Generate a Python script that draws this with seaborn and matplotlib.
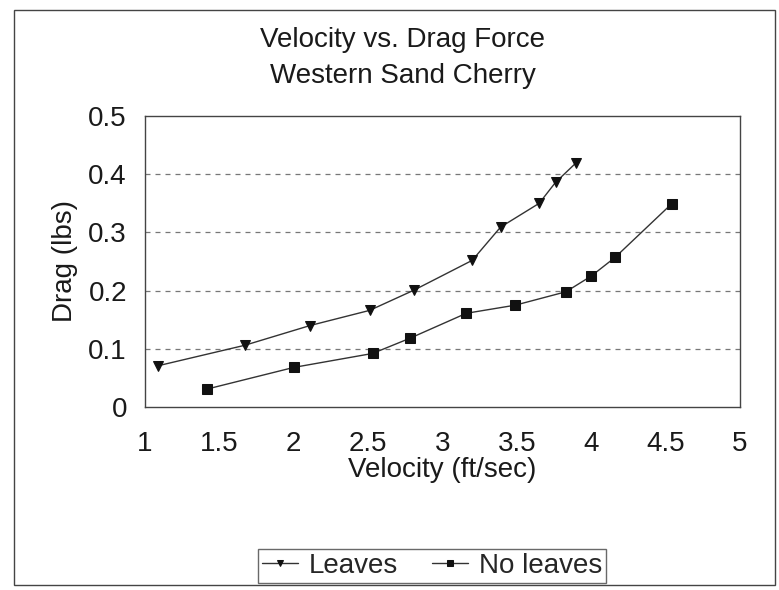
import matplotlib
matplotlib.use("Agg")
import matplotlib.pyplot as plt
import seaborn as sns
import pandas as pd
from matplotlib.patches import Rectangle

sns.set_theme(style="white")
plt.rcParams['font.family'] = ['Liberation Sans', 'DejaVu Sans']

# Data
leaves_velocity = [1.09, 1.67, 2.11, 2.51, 2.81, 3.20, 3.39, 3.65, 3.76, 3.90]
leaves_drag = [0.071, 0.106, 0.140, 0.166, 0.201, 0.252, 0.309, 0.350, 0.386, 0.420]
noleaves_velocity = [1.42, 2.00, 2.53, 2.78, 3.16, 3.49, 3.83, 4.00, 4.16, 4.54]
noleaves_drag = [0.031, 0.068, 0.092, 0.118, 0.161, 0.175, 0.198, 0.225, 0.257, 0.349]
x_ticks = [1, 1.5, 2, 2.5, 3, 3.5, 4, 4.5, 5]
y_ticks = [0, 0.1, 0.2, 0.3, 0.4, 0.5]
series_names = ["Leaves", "No leaves"]

df = pd.concat([
    pd.DataFrame({"Velocity": leaves_velocity, "Drag": leaves_drag, "Series": series_names[0]}),
    pd.DataFrame({"Velocity": noleaves_velocity, "Drag": noleaves_drag, "Series": series_names[1]}),
])

FS = 20
TXT = "#1a1a1a"

fig = plt.figure(figsize=(7.79, 5.90), dpi=100)
ax = fig.add_axes([145/779, 1-407/590, 595/779, 291/590])

markers = {"Leaves": "v", "No leaves": "s"}
for name in series_names:
    sub = df[df["Series"] == name]
    sns.lineplot(data=sub, x="Velocity", y="Drag", ax=ax, color="#333333", lw=1.0,
                 marker=markers[name], markersize=7, markeredgecolor="#111111",
                 markerfacecolor="#111111", sort=False, label=name, legend=False)

ax.set_xlim(1, 5)
ax.set_ylim(0, 0.5)
ax.set_xticks(x_ticks)
ax.set_xticklabels([f"{t:g}" for t in x_ticks])
ax.set_yticks(y_ticks)
ax.set_yticklabels([f"{t:g}" for t in y_ticks])
ax.tick_params(axis='x', labelsize=FS, length=0, pad=17, colors=TXT)
ax.tick_params(axis='y', labelsize=FS, length=0, pad=13, colors=TXT)
for yv in y_ticks[1:-1]:
    ax.axhline(yv, color="#777777", lw=0.9, ls=(0, (4, 4)), zorder=0)
for s in ax.spines.values():
    s.set_visible(True)
    s.set_color("#444444")
    s.set_linewidth(1.0)

ax.set_xlabel("Velocity (ft/sec)", fontsize=FS, color=TXT)
ax.set_ylabel("Drag (lbs)", fontsize=FS, color=TXT)
ax.xaxis.set_label_coords(0.5, (407-457)/291)
ax.yaxis.set_label_coords((78-145)/595, 0.5)

fig.text(403/779, 1-47/590, "Velocity vs. Drag Force", ha="center", va="baseline",
         fontsize=FS, color=TXT)
fig.text(403/779, 1-83/590, "Western Sand Cherry", ha="center", va="baseline",
         fontsize=FS, color=TXT)

handles, labels = ax.get_legend_handles_labels()
leg = fig.legend(handles, labels, loc="center", bbox_to_anchor=(432/779, 1-566/590),
                 ncol=2, fontsize=FS, frameon=True, fancybox=False, handlelength=1.3,
                 columnspacing=1.2, borderpad=0.15, borderaxespad=0, handletextpad=0.4,
                 markerscale=0.6)
leg.get_frame().set_edgecolor("#444444")
leg.get_frame().set_linewidth(1.0)

fig.patches.append(Rectangle((14/779, 1-585/590), 761/779, 575/590, transform=fig.transFigure,
                             fill=False, edgecolor="#444444", lw=1.0))

fig.savefig("out.png", dpi=100)
